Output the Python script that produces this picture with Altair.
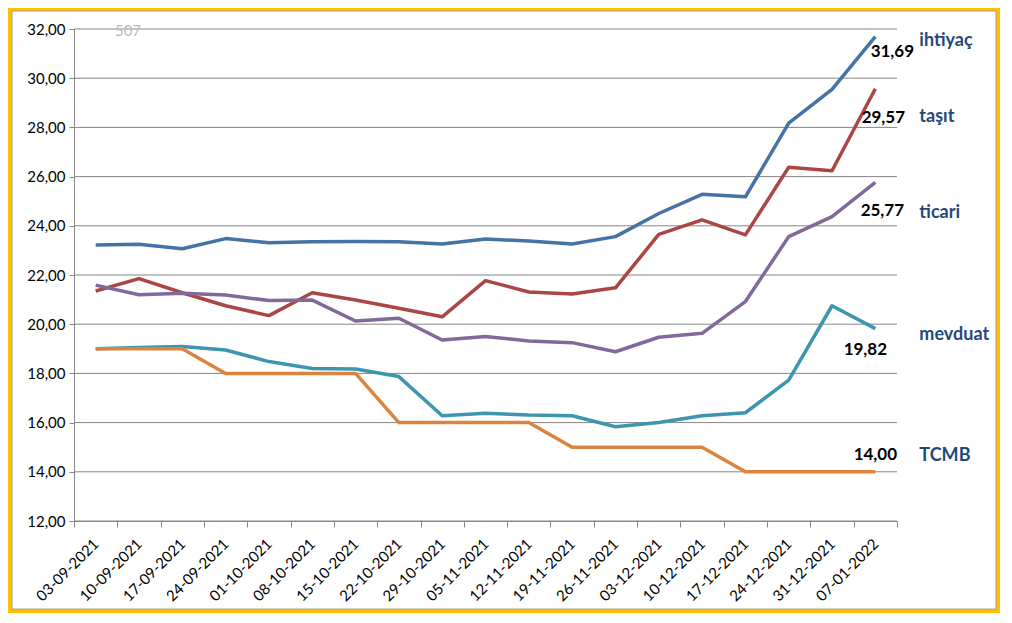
import altair as alt
import pandas as pd

dates = ["03-09-2021", "10-09-2021", "17-09-2021", "24-09-2021", "01-10-2021",
         "08-10-2021", "15-10-2021", "22-10-2021", "29-10-2021", "05-11-2021",
         "12-11-2021", "19-11-2021", "26-11-2021", "03-12-2021", "10-12-2021",
         "17-12-2021", "24-12-2021", "31-12-2021", "07-01-2022"]

ihtiyac = [23.22, 23.25, 23.07, 23.48, 23.31, 23.35, 23.36, 23.35, 23.26, 23.46,
           23.38, 23.26, 23.56, 24.50, 25.28, 25.18, 28.17, 29.55, 31.69]
tasit = [21.35, 21.85, 21.28, 20.75, 20.35, 21.28, 20.98, 20.65, 20.30, 21.77,
         21.31, 21.23, 21.48, 23.65, 24.24, 23.63, 26.38, 26.24, 29.57]
ticari = [21.59, 21.20, 21.26, 21.19, 20.96, 20.98, 20.13, 20.24, 19.36, 19.50,
          19.32, 19.25, 18.88, 19.47, 19.63, 20.92, 23.56, 24.37, 25.77]
mevduat = [19.00, 19.05, 19.09, 18.95, 18.48, 18.20, 18.18, 17.87, 16.28, 16.38,
           16.31, 16.28, 15.83, 16.00, 16.28, 16.40, 17.73, 20.75, 19.82]
tcmb = [19.00, 19.00, 19.00, 18.00, 18.00, 18.00, 18.00, 16.00, 16.00, 16.00,
        16.00, 15.00, 15.00, 15.00, 15.00, 14.00, 14.00, 14.00, 14.00]

series_names = ["ihtiyaç", "taşıt", "ticari", "mevduat", "TCMB"]
series_values = [ihtiyac, tasit, ticari, mevduat, tcmb]
series_colors = ["#4572A7", "#AA4643", "#80699B", "#3D96AE", "#DB843D"]
y_ticks = [12, 14, 16, 18, 20, 22, 24, 26, 28, 30, 32]

# label offsets (styling) : (value dx, value dy, name dx, name dy)
label_offsets = {
    "ihtiyaç": (17, 15, 44, 4),
    "taşıt": (8, 29, 44, 28),
    "ticari": (7, 29, 44, 31),
    "mevduat": (-10, 21, 44, 6),
    "TCMB": (0, -17, 44, -16),
}

FONT = "Lato"
GRID = "#868686"

x_axis = alt.Axis(title=None, labelAngle=-45, labelAlign="right", labelBaseline="middle",
                  labelFontSize=15, labelFont=FONT, labelColor="black", labelPadding=14,
                  tickBand="extent", tickSize=6, tickColor=GRID, domainColor=GRID,
                  grid=False, zindex=1)
x_scale = alt.Scale(type="band", paddingInner=0, paddingOuter=0)
y_axis = alt.Axis(title=None, values=y_ticks,
                  labelExpr="replace(format(datum.value, '.2f'), '.', ',')",
                  labelFontSize=15, labelFont=FONT, labelColor="black", labelPadding=4,
                  tickSize=5, tickColor=GRID, domainColor=GRID, grid=False, zindex=1)
y_scale = alt.Scale(domain=[12, 32], nice=False, zero=False)


def X():
    return alt.X("date:N", sort=dates, bandPosition=0.5, scale=x_scale, axis=x_axis)


def Y():
    return alt.Y("value:Q", scale=y_scale, axis=y_axis)


frame = alt.Chart(pd.DataFrame({"k": [0]})).mark_rect(
    color="white", stroke="#A0A0A0", strokeWidth=1
).encode(x=alt.value(-62), x2=alt.value(922), y=alt.value(-18), y2=alt.value(580))

grid = alt.Chart(pd.DataFrame({"value": y_ticks})).mark_rule(
    color=GRID, strokeWidth=1
).encode(y=Y(), x=alt.value(0), x2=alt.value(823))

layers = [frame, grid]
for name, vals, col in zip(series_names, series_values, series_colors):
    df = pd.DataFrame({"date": dates, "value": vals, "series": name})
    layers.append(
        alt.Chart(df).mark_line(color=col, strokeWidth=3.5, strokeJoin="round")
        .encode(x=X(), y=Y())
    )

for name, vals in zip(series_names, series_values):
    vdx, vdy, ndx, ndy = label_offsets[name]
    last = pd.DataFrame({"date": [dates[-1]], "value": [vals[-1]],
                         "lbl": [f"{vals[-1]:.2f}".replace(".", ",")],
                         "name": [name]})
    layers.append(
        alt.Chart(last).mark_text(font=FONT, fontSize=17, fontWeight="bold",
                                  color="black", dx=vdx, dy=vdy)
        .encode(x=X(), y=Y(), text="lbl:N")
    )
    layers.append(
        alt.Chart(last).mark_text(font=FONT, fontSize=18, fontWeight="bold",
                                  color="#1F497D", align="left", dx=ndx, dy=ndy)
        .encode(x=X(), y=Y(), text="name:N")
    )

watermark = alt.Chart(pd.DataFrame({"k": [0]})).mark_text(
    font=FONT, fontSize=15, color="#BBBBBB"
).encode(x=alt.value(54), y=alt.value(2), text=alt.value("507"))
layers.append(watermark)

chart = alt.layer(*layers).properties(
    width=823, height=492,
    background="#FFC000",
    padding={"left": 66, "top": 21, "right": 103, "bottom": 92},
    autosize=alt.AutoSizeParams(type="none"),
).configure_view(strokeWidth=0)

chart.save("out.html", embed_options={"renderer": "svg", "actions": False})
